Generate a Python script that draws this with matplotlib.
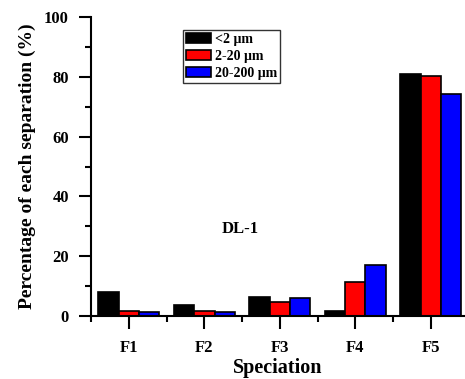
import matplotlib.pyplot as plt
import numpy as np
from matplotlib.ticker import MultipleLocator

plt.rcParams['font.family'] = ['Liberation Serif', 'DejaVu Serif']
plt.rcParams['font.weight'] = 'bold'

categories = ['F1', 'F2', 'F3', 'F4', 'F5']
lt2 = [8.1, 3.6, 6.4, 1.8, 81.0]
s2_20 = [1.8, 1.8, 4.8, 11.5, 80.4]
s20_200 = [1.4, 1.3, 6.1, 17.2, 74.3]
labels = ['<2 \u03bcm', '2-20 \u03bcm', '20-200 \u03bcm']
colors = ['black', 'red', 'blue']

fig = plt.figure(figsize=(4.65, 3.79), dpi=100)
ax = fig.add_axes([0.196, 0.166, 0.804, 0.789])

x = np.arange(1, len(categories) + 1)
w = 0.27
for i, (vals, lab, c) in enumerate(zip([lt2, s2_20, s20_200], labels, colors)):
    ax.bar(x + (i - 1) * w, vals, w, color=c, edgecolor='black', linewidth=1.2, label=lab)

ax.set_xlim(0.5, 5.454)
ax.set_ylim(0, 100)
ax.set_xticks(x)
ax.set_xticklabels(categories)
ax.xaxis.set_minor_locator(MultipleLocator(1, offset=0.5))
ax.yaxis.set_major_locator(MultipleLocator(20))
ax.yaxis.set_minor_locator(MultipleLocator(10))
ax.tick_params(which='major', length=9, width=1.5, labelsize=12, pad=8)
ax.tick_params(axis='y', which='major', pad=7)
ax.tick_params(which='minor', length=4.5, width=1.5)

for s in ['top', 'right']:
    ax.spines[s].set_visible(False)
for s in ['left', 'bottom']:
    ax.spines[s].set_linewidth(1.5)

ax.set_xlabel('Speciation', fontsize=14.5, fontweight='bold', labelpad=2)
ax.set_ylabel('Percentage of each separation (%)', fontsize=14, fontweight='bold', labelpad=6)
ax.text(2.47, 29, 'DL-1', fontsize=12, fontweight='bold', ha='center', va='center')

leg = ax.legend(loc='upper left', bbox_to_anchor=(0.245, 0.957), fontsize=10,
                frameon=True, fancybox=False, edgecolor='black', handlelength=1.8,
                handleheight=0.8, handletextpad=0.3, labelspacing=0.28, borderpad=0.2,
                borderaxespad=0)
leg.get_frame().set_linewidth(1.0)
for t in leg.get_texts():
    t.set_fontweight('bold')

fig.savefig('out.png', dpi=100)
